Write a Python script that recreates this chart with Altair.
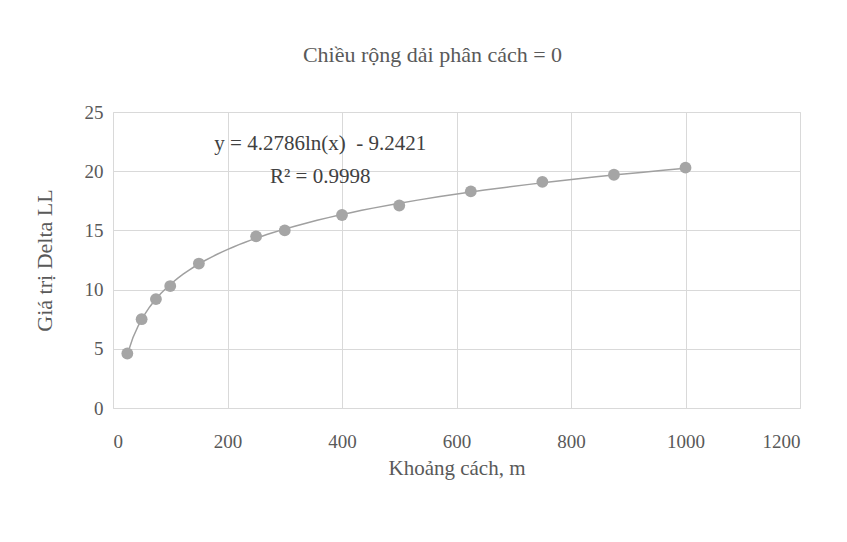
import altair as alt
import pandas as pd

# distance (m) and Delta LL values
distance = [25, 50, 75, 100, 150, 250, 300, 400, 500, 625, 750, 875, 1000]
delta_ll = [4.6, 7.5, 9.2, 10.3, 12.2, 14.5, 15.0, 16.3, 17.1, 18.3, 19.1, 19.7, 20.3]

ann_text = ["y = 4.2786ln(x) \u00a0- 9.2421", "R² = 0.9998"]
ann_x = [362, 362]
ann_y = [22.3, 19.5]

x_ticks = [0, 200, 400, 600, 800, 1000, 1200]
y_ticks = [0, 5, 10, 15, 20, 25]

FONT = "Liberation Serif"
TXT = "#595959"
GRID = "#d9d9d9"
MARK = "#a5a5a5"

df = pd.DataFrame({"x": distance, "y": delta_ll})
ann = pd.DataFrame({"t": ann_text, "x": ann_x, "y": ann_y})

xs = alt.Scale(domain=[0, 1200], nice=False)
ys = alt.Scale(domain=[0, 25], nice=False)

xax = alt.Axis(values=x_ticks, format="d", title="Khoảng cách, m", grid=True, gridColor=GRID,
               domain=False, ticks=False, labelPadding=24, titlePadding=6,
               labelFont=FONT, titleFont=FONT, labelFontSize=19, titleFontSize=21,
               labelColor=TXT, titleColor=TXT, titleFontWeight="normal")
yax = alt.Axis(values=y_ticks, title="Giá  trị Delta LL", grid=True, gridColor=GRID,
               domain=False, ticks=False, labelPadding=10, titlePadding=28,
               labelFont=FONT, titleFont=FONT, labelFontSize=19, titleFontSize=22,
               labelColor=TXT, titleColor=TXT, titleFontWeight="normal")

base = alt.Chart(df)

trend = base.transform_regression("x", "y", method="log", extent=[25, 1000]).mark_line(
    color="#a0a0a0", strokeWidth=1.5
).encode(x=alt.X("x:Q", scale=xs, axis=xax), y=alt.Y("y:Q", scale=ys, axis=yax))

points = base.mark_circle(color=MARK, size=140, opacity=1).encode(
    x=alt.X("x:Q", scale=xs), y=alt.Y("y:Q", scale=ys)
)

labels = alt.Chart(ann).mark_text(font=FONT, fontSize=21, color="#404040").encode(
    x=alt.X("x:Q", scale=xs), y=alt.Y("y:Q", scale=ys), text="t:N"
)

chart = alt.layer(trend, points, labels).properties(
    width=687, height=296,
    title=alt.TitleParams("Chiều rộng dải phân cách = 0", font=FONT, fontSize=22,
                          fontWeight="normal", color=TXT, offset=36, anchor="middle", dx=-24),
    autosize=alt.AutoSizeParams(type="none"),
    padding={"left": 105, "top": 104, "right": 30, "bottom": 100},
).configure_view(stroke=None).configure(background="white")

chart.save("out.html", embed_options={"renderer": "svg", "actions": False})
